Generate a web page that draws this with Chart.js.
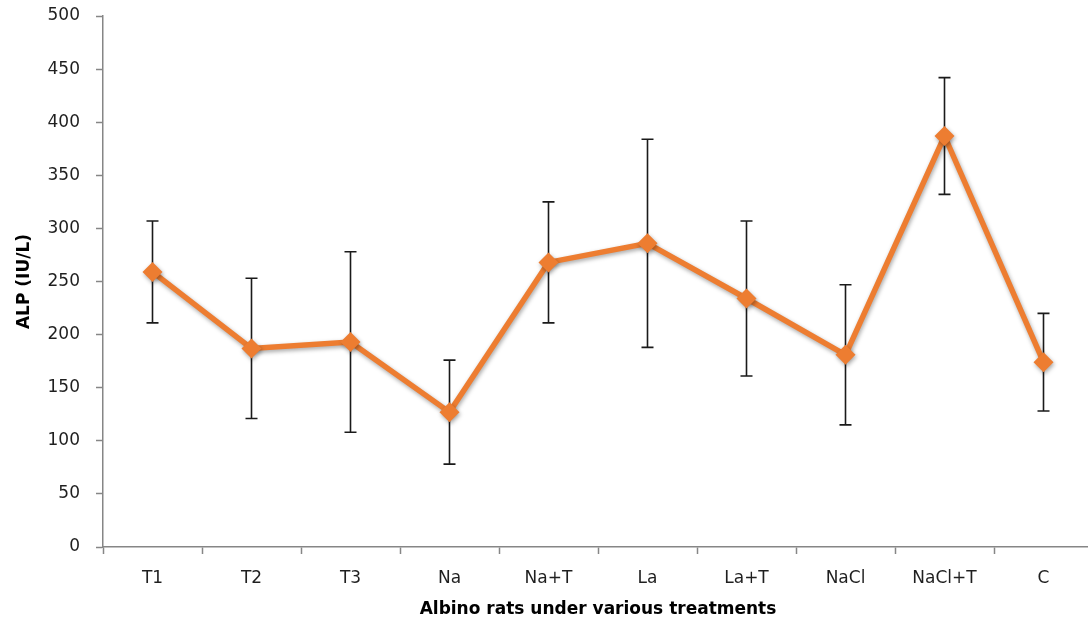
<!DOCTYPE html>
<html>
<head>
<meta charset="utf-8">
<script src="https://cdn.jsdelivr.net/npm/chart.js@4/dist/chart.umd.min.js"></script>
<style>
  html, body { margin: 0; padding: 0; background: #fff; overflow: hidden; }
  #wrap { width: 1103px; height: 623px; }
</style>
</head>
<body>
<div id="wrap"><canvas id="alpChart" width="1103" height="623"></canvas></div>
<script>
// datos
const grupos = ['T1', 'T2', 'T3', 'Na', 'Na+T', 'La', 'La+T', 'NaCl', 'NaCl+T', 'C'];
const alpMedia = [259, 187, 193, 127, 268, 286, 234, 181, 387, 174];
const alpError = [48, 66, 85, 49, 57, 98, 73, 66, 55, 46];
const yTicks = [0, 50, 100, 150, 200, 250, 300, 350, 400, 450, 500];

const naranja = '#ED7D31';
const gris = '#868686';

// barras de error (detras de la linea)
const barrasError = {
    id: 'barrasError',
    beforeDatasetsDraw(chart) {
        const ctx = chart.ctx;
        const x = chart.scales.x;
        const y = chart.scales.y;
        ctx.save();
        ctx.strokeStyle = '#1a1a1a';
        ctx.lineWidth = 1.6;
        alpMedia.forEach((m, i) => {
            const px = x.getPixelForValue(i);
            const top = y.getPixelForValue(m + alpError[i]);
            const bot = y.getPixelForValue(m - alpError[i]);
            ctx.beginPath();
            ctx.moveTo(px, top);
            ctx.lineTo(px, bot);
            ctx.moveTo(px - 6, top);
            ctx.lineTo(px + 6, top);
            ctx.moveTo(px - 6, bot);
            ctx.lineTo(px + 6, bot);
            ctx.stroke();
        });
        ctx.restore();
    }
};

// sombra suave de la serie
const sombra = {
    id: 'sombra',
    beforeDatasetDraw(chart) {
        const ctx = chart.ctx;
        ctx.save();
        ctx.shadowColor = 'rgba(0,0,0,0.35)';
        ctx.shadowBlur = 4;
        ctx.shadowOffsetX = 1;
        ctx.shadowOffsetY = 2;
    },
    afterDatasetDraw(chart) {
        chart.ctx.restore();
    }
};

new Chart(document.getElementById('alpChart'), {
    type: 'line',
    data: {
        labels: grupos,
        datasets: [{
            label: 'ALP',
            data: alpMedia,
            borderColor: naranja,
            backgroundColor: naranja,
            borderWidth: 5.5,
            pointStyle: 'rectRot',
            pointRadius: 10,
            pointBorderWidth: 0,
            pointBackgroundColor: naranja,
            tension: 0,
            fill: false
        }]
    },
    options: {
        responsive: false,
        animation: false,
        layout: { padding: { top: 16, left: 0, right: 0, bottom: 0 } },
        plugins: {
            legend: { display: false },
            tooltip: { enabled: false }
        },
        scales: {
            x: {
                offset: true,
                afterFit: s => {
                    s.height = 76;
                    s.paddingLeft = 0;
                    s.paddingRight = 0;
                },
                grid: {
                    offset: true,
                    drawOnChartArea: false,
                    tickLength: 7,
                    tickColor: gris,
                    tickWidth: 1.5
                },
                border: { color: gris, width: 1.5 },
                ticks: {
                    color: '#1f1f1f',
                    padding: 14,
                    font: { family: 'DejaVu Sans', size: 17 }
                },
                title: {
                    display: true,
                    text: 'Albino rats under various treatments',
                    color: '#000',
                    padding: { top: 0, bottom: 3 },
                    font: { family: 'DejaVu Sans', size: 17, weight: 'bold' }
                }
            },
            y: {
                min: 0,
                max: 500,
                afterFit: s => {
                    s.width = 103;
                    s.paddingTop = 0;
                    s.paddingBottom = 0;
                },
                afterBuildTicks: s => { s.ticks = yTicks.map(v => ({ value: v })); },
                grid: {
                    drawOnChartArea: false,
                    tickLength: 7,
                    tickColor: gris,
                    tickWidth: 1.5
                },
                border: { color: gris, width: 1.5 },
                ticks: {
                    color: '#1f1f1f',
                    padding: 16,
                    font: { family: 'DejaVu Sans', size: 17 }
                },
                title: {
                    display: true,
                    text: 'ALP (IU/L)',
                    color: '#000',
                    padding: { top: 14, bottom: 0 },
                    font: { family: 'DejaVu Sans', size: 17, weight: 'bold' }
                }
            }
        }
    },
    plugins: [barrasError, sombra]
});
</script>
</body>
</html>
